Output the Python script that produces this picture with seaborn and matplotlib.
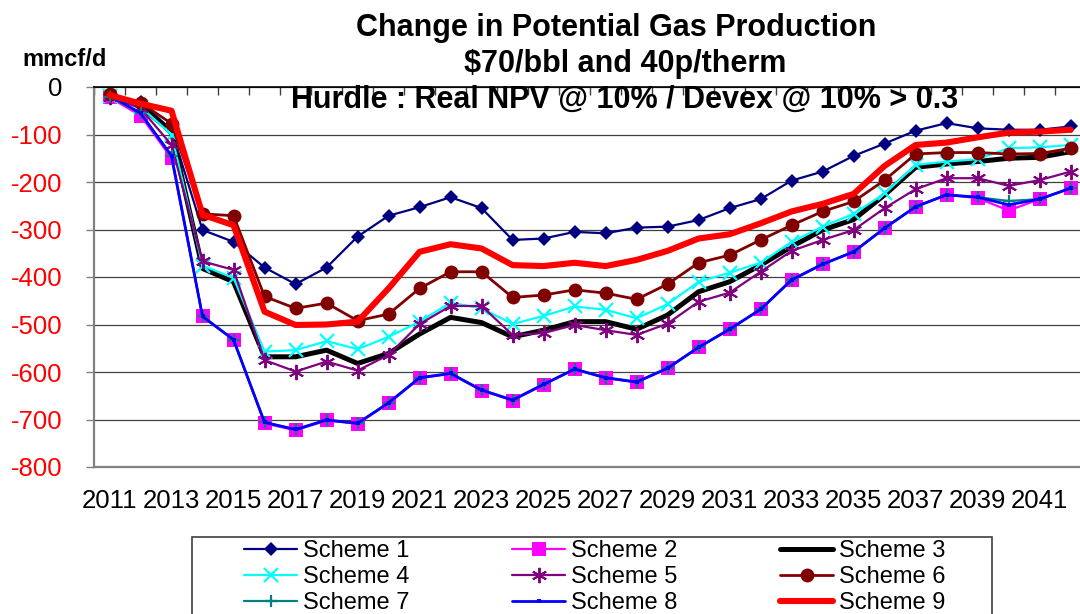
import numpy as np
import pandas as pd
import matplotlib
matplotlib.use("Agg")
import matplotlib.pyplot as plt
import seaborn as sns
from matplotlib.patches import Rectangle
from matplotlib.ticker import FixedLocator

# ---------------------------------------------------------------------------
# Data (mmcf/d change)
# ---------------------------------------------------------------------------
years = list(range(2011, 2043))

scheme_1 = [-15, -32, -90, -301, -326, -380, -415, -380, -315, -271, -253,
            -232, -255, -322, -319, -305, -308, -296, -294, -280, -255,
            -236, -197, -178, -145, -119, -92, -76, -87, -90, -90, -83]
scheme_2 = [-22, -60, -150, -483, -532, -708, -723, -702, -709, -666, -613,
            -604, -639, -660, -627, -594, -613, -622, -592, -548, -510,
            -468, -406, -373, -347, -297, -252, -227, -234, -260, -236, -213]
scheme_3 = [-15, -40, -95, -382, -410, -568, -568, -554, -582, -561, -520,
            -485, -496, -526, -512, -494, -494, -510, -480, -431, -410,
            -375, -336, -301, -279, -227, -169, -162, -157, -150, -148, -136]
scheme_4 = [-18, -42, -100, -376, -402, -557, -554, -535, -552, -526, -494,
            -454, -466, -499, -482, -462, -469, -487, -457, -410, -391,
            -370, -326, -294, -267, -224, -164, -157, -152, -129, -127, -122]
scheme_5 = [-20, -45, -122, -367, -385, -575, -599, -578, -597, -564, -499,
            -461, -461, -522, -518, -501, -512, -522, -498, -452, -433,
            -389, -345, -322, -301, -255, -215, -192, -192, -208, -196, -178]
scheme_6 = [-15, -33, -77, -267, -271, -441, -466, -455, -492, -478, -424,
            -389, -389, -443, -438, -427, -434, -447, -415, -370, -354,
            -322, -291, -262, -241, -196, -141, -138, -138, -141, -140, -129]
scheme_7 = [-20, -55, -145, -483, -532, -706, -721, -701, -708, -665, -612,
            -603, -638, -659, -626, -594, -612, -621, -592, -548, -510,
            -468, -406, -373, -347, -297, -252, -227, -232, -240, -236, -213]
scheme_8 = [-18, -55, -145, -483, -532, -706, -721, -701, -708, -665, -612,
            -603, -638, -659, -626, -594, -612, -621, -592, -548, -510,
            -468, -406, -373, -347, -297, -252, -227, -232, -248, -236, -213]
scheme_9 = [-17, -35, -50, -269, -291, -473, -501, -500, -494, -424, -347,
            -331, -340, -375, -377, -370, -377, -364, -345, -319, -310,
            -287, -262, -246, -225, -166, -122, -117, -106, -96, -94, -90]

scheme_names = [f"Scheme {i}" for i in range(1, 10)]
scheme_values = [scheme_1, scheme_2, scheme_3, scheme_4, scheme_5,
                 scheme_6, scheme_7, scheme_8, scheme_9]

y_ticks = [0, -100, -200, -300, -400, -500, -600, -700, -800]
x_tick_years = years[::2]

# ---------------------------------------------------------------------------
# Styles (Excel-like)
# ---------------------------------------------------------------------------
styles = {
    "Scheme 1": dict(color="#000080", lw=1.6, marker="D", ms=7, mew=0),
    "Scheme 2": dict(color="#FF00FF", lw=1.6, marker="s", ms=10, mew=0),
    "Scheme 3": dict(color="#000000", lw=3.6, marker=None, ms=0, mew=0),
    "Scheme 4": dict(color="#00FFFF", lw=1.6, marker="x", ms=10, mew=1.6),
    "Scheme 5": dict(color="#800080", lw=1.6, marker=(6, 2, 0), ms=11, mew=1.4),
    "Scheme 6": dict(color="#800000", lw=2.0, marker="o", ms=10, mew=0),
    "Scheme 7": dict(color="#008080", lw=1.6, marker="+", ms=9, mew=1.6),
    "Scheme 8": dict(color="#0000FF", lw=2.0, marker="s", ms=3.5, mew=0),
    "Scheme 9": dict(color="#FF0000", lw=4.4, marker=None, ms=0, mew=0),
}

df = pd.DataFrame({
    "year": np.tile(years, len(scheme_names)),
    "value": np.concatenate(scheme_values),
    "scheme": np.repeat(scheme_names, len(years)),
})

# ---------------------------------------------------------------------------
# Plot
# ---------------------------------------------------------------------------
sns.set_theme(style="white")
plt.rcParams["font.family"] = ["Liberation Sans", "DejaVu Sans"]
plt.rcParams["text.color"] = "black"
plt.rcParams["xtick.color"] = "black"
plt.rcParams["ytick.color"] = "black"

W, H = 1080, 614
fig = plt.figure(figsize=(W / 100, H / 100), dpi=100)
ax = fig.add_axes([94 / W, (H - 467) / H, (W - 94) / W, 380 / H])

for name in scheme_names:
    st = styles[name]
    sub = df[df["scheme"] == name]
    sns.lineplot(
        data=sub, x="year", y="value", ax=ax, label=name,
        color=st["color"], linewidth=st["lw"],
        marker=st["marker"], markersize=st["ms"], markeredgewidth=st["mew"],
        markeredgecolor=st["color"], markerfacecolor=st["color"],
        sort=False, errorbar=None,
    )

ax.set_xlim(years[0] - 0.5, years[-1] + 0.3)
ax.set_ylim(-800, 0)
ax.set_xlabel("")
ax.set_ylabel("")

# y axis
ax.set_yticks(y_ticks)
ax.set_yticklabels([str(v) for v in y_ticks])
for lab, v in zip(ax.get_yticklabels(), y_ticks):
    lab.set_color("black" if v == 0 else "red")
ax.tick_params(axis="y", which="major", left=True, length=6, width=1,
               color="#808080", pad=17, labelsize=18.5)
ax.yaxis.grid(True, color="#404040", linewidth=0.9)
ax.set_axisbelow(True)

# x axis: labels at bottom, boundary tick marks on the top line (value 0)
ax.set_xticks(x_tick_years)
ax.set_xticklabels([str(y) for y in x_tick_years], color="black")
ax.xaxis.set_minor_locator(FixedLocator(np.arange(years[0] - 0.5, years[-1] + 1, 1)))
ax.tick_params(axis="x", which="major", bottom=False, top=False, length=0,
               pad=16, labelsize=18.5)
ax.tick_params(axis="x", which="minor", bottom=False, top=True,
               direction="in", length=6, width=1, color="#404040")

ax.spines["right"].set_visible(False)
ax.spines["top"].set_color("#000000")
ax.spines["top"].set_linewidth(1.2)
ax.spines["left"].set_color("#808080")
ax.spines["left"].set_linewidth(1.6)
ax.spines["bottom"].set_color("#808080")
ax.spines["bottom"].set_linewidth(1.6)

# titles
fig.text(616 / W, 1 - 36 / H, "Change in Potential Gas Production",
         ha="center", va="baseline", fontsize=22, fontweight="bold", color="black")
fig.text(625 / W, 1 - 72 / H, "$70/bbl and 40p/therm",
         ha="center", va="baseline", fontsize=22, fontweight="bold", color="black")
fig.text(625 / W, 1 - 108 / H, "Hurdle : Real NPV @ 10% / Devex @ 10% > 0.3",
         ha="center", va="baseline", fontsize=22, fontweight="bold", color="black")
fig.text(22 / W, 1 - 66 / H, "mmcf/d", ha="left", va="baseline",
         fontsize=17, fontweight="bold", color="black")

# legend (row-major order like the original)
handles, labels = ax.get_legend_handles_labels()
ax.get_legend().remove()
order = [0, 3, 6, 1, 4, 7, 2, 5, 8]
leg = fig.legend([handles[i] for i in order], [labels[i] for i in order],
                 ncol=3, loc="upper left", bbox_to_anchor=(244 / W, 1 - 540 / H),
                 frameon=False, fontsize=17, borderpad=0, labelspacing=0.17,
                 handlelength=2.25, handletextpad=0.25, columnspacing=4.35,
                 borderaxespad=0)
for t in leg.get_texts():
    t.set_color("black")
fig.add_artist(Rectangle((192 / W, -10 / H), 800 / W, (H - 537 + 10) / H,
                         transform=fig.transFigure, fill=False,
                         edgecolor="#404040", linewidth=1.2))

fig.savefig("out.png", dpi=100)
